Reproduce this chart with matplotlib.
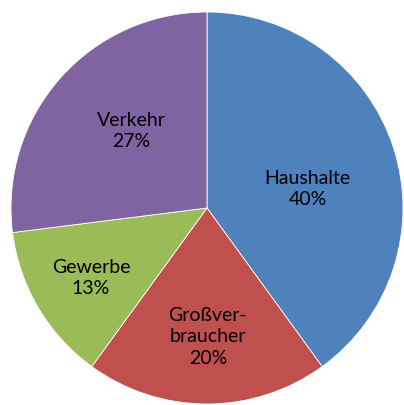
import matplotlib.pyplot as plt

# Daten
categories = ['Haushalte', 'Großver-\nbraucher', 'Gewerbe', 'Verkehr']
values = [40, 20, 13, 27]
colors = ['#4F81BD', '#C0504D', '#9BBB59', '#8064A2']

# Position der Beschriftungen (in Radius-Einheiten)
label_pos = [(0.513, 0.102), (0.005, -0.653), (-0.592, -0.352), (-0.388, 0.398)]

plt.rcParams['font.family'] = ['Lato', 'DejaVu Sans']

fig = plt.figure(figsize=(4.04, 4.06), dpi=100)
ax = fig.add_axes([0.0, 0.0, 1.0, 1.0])

wedges, _ = ax.pie(values, colors=colors, startangle=90, counterclock=False,
                   radius=1.0, wedgeprops=dict(edgecolor='white', linewidth=0.6))

for cat, v, (x, y) in zip(categories, values, label_pos):
    ax.text(x, y, f'{cat}\n{v}%', ha='center', va='center',
            fontsize=14, color='black', linespacing=1.3)

ax.set_xlim(-207 / 196, 197 / 196)
ax.set_ylim(-197 / 196, 209 / 196)
ax.set_aspect('auto')
ax.axis('off')

fig.savefig('out.png', dpi=100)
